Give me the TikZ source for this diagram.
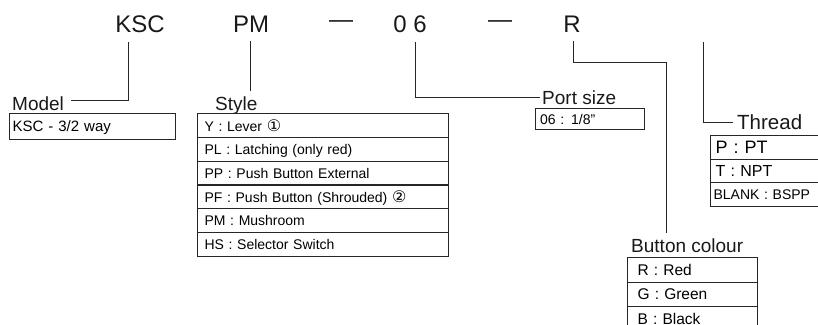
\documentclass[tikz,border=0pt]{standalone}
\usepackage{fontspec}
\setmainfont{Liberation Sans}
\newfontfamily\symfont{DejaVu Sans}
\begin{document}
\begin{tikzpicture}[x=1pt,y=-1pt,
  big/.style={inner sep=0pt,font=\fontsize{24}{24}\selectfont,text=black!90},
  lbl/.style={inner sep=0pt,anchor=base west,font=\fontsize{19}{19}\selectfont,text=black!90},
  lead/.style={draw=black!85,line width=1pt},
  rowbox/.style={draw=black!85,line width=1.1pt,anchor=north west,minimum height=#1,inner sep=0pt,inner xsep=7pt,text depth=0pt,align=left},
  rowfont/.style={font=\fontsize{#1}{#1}\selectfont}
]
\useasboundingbox (0,0) rectangle (818,324);
\clip (0,0) rectangle (818,324);
% code letters
\node[big] (ksc) at (140,24) {KSC};
\node[big] (pm) at (251,24) {PM};
\node[big] (d1) at (341,24) {—};
\node[big] (ps) at (410,24) {0 6};
\node[big] (d2) at (500,24) {—};
\node[big] (rr) at (572,24) {R};
\coordinate (thtop) at (703,42);
% labels
\node[lbl] (model) at (12,110) {Model};
\node[lbl] (style) at (215,110) {Style};
\node[lbl] (port) at (542,104) {Port size};
\node[lbl,font=\fontsize{20.5}{20.5}\selectfont] (thread) at (737,129) {Thread};
\node[lbl] (button) at (631,252) {Button colour};
% leader lines
\draw[lead] (ksc.south -| 128,0) ++(0,9) -- (128,100) -- ([xshift=7pt]model.east |- 0,100);
\draw[lead] (pm.south -| 250,0) ++(0,9) -- ([yshift=5pt]style.north -| 250,0);
\draw[lead] (ps.south -| 415,0) ++(0,9) -- (415,97) -- ([xshift=-2pt]port.west |- 0,97);
\draw[lead] (rr.south -| 573,0) ++(0,9) -- (573,62) -- (666,62) -- ([yshift=5pt]button.north -| 666,0);
\draw[lead] (thtop) -- (703,122) -- ([xshift=-4pt]thread.west |- 0,122);
% model box
\node[rowbox=26pt,minimum width=166pt,rowfont=15,inner xsep=3pt,text width=160pt] (m1) at (9,113) {KSC - 3/2 way};
% style box
\foreach \i/\t in {0/{Y : Lever {\symfont\fontsize{16}{16}\selectfont ①}},1/{PL : Latching (only red)},2/{PP : Push Button External},3/{PF : Push Button (Shrouded) {\symfont\fontsize{16}{16}\selectfont ②}},4/{PM : Mushroom},5/{HS : Selector Switch}}{
  \node[rowbox=23.8pt,minimum width=251pt,text width=237pt,rowfont=14] (s\i) at (197,113+23.8*\i) {\t};
}
% port size box
\node[rowbox=21pt,minimum width=109pt,text width=100pt,rowfont=14,inner xsep=4pt] (p1) at (535,108) {06 : 1/8"};
% thread box
\node[rowbox=23.5pt,minimum width=130pt,text width=120pt,rowfont=18,inner xsep=5pt] (t1) at (710,135) {P : PT};
\node[rowbox=23.5pt,minimum width=130pt,text width=120pt,rowfont=16,inner xsep=5pt] (t2) at (710,158.5) {T : NPT};
\node[rowbox=23.5pt,minimum width=130pt,text width=124pt,rowfont=14,inner xsep=3pt] (t3) at (710,182) {BLANK : BSPP};
% button colour box
\node[rowbox=24.5pt,minimum width=122pt,text width=110pt,rowfont=15.5,inner xsep=10pt] (b1) at (627,257) {R : Red};
\node[rowbox=24.5pt,minimum width=122pt,text width=110pt,rowfont=15.5,inner xsep=10pt] (b2) at (627,281.5) {G : Green};
\node[rowbox=24.5pt,minimum width=122pt,text width=110pt,rowfont=15.5,inner xsep=10pt] (b3) at (627,306) {B : Black};
\end{tikzpicture}
\end{document}
